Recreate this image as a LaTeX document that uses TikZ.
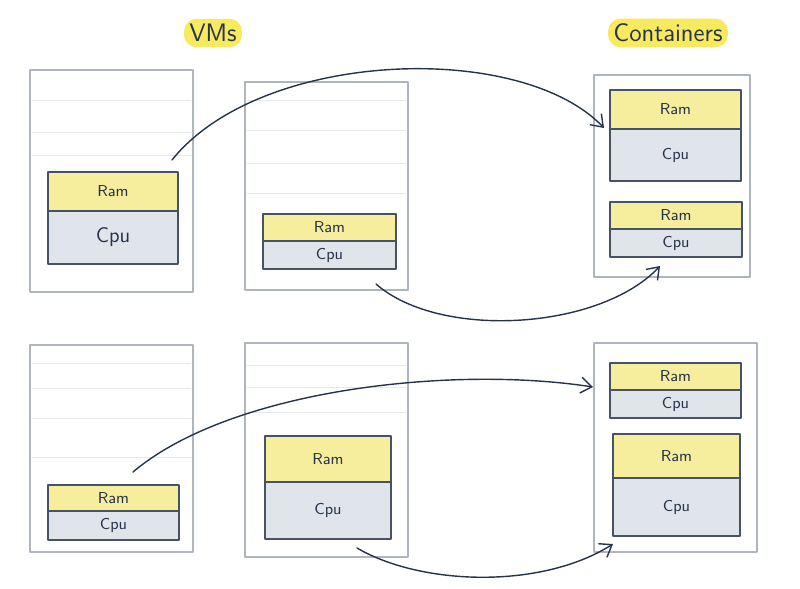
\documentclass[tikz,border=0pt]{standalone}
\usetikzlibrary{positioning,arrows.meta}

\definecolor{ramyellow}{HTML}{F6EE9C}
\definecolor{cpugray}{HTML}{DFE5EA}
\definecolor{boxline}{HTML}{AEB5BD}
\definecolor{inkblue}{HTML}{26344A}
\definecolor{paperline}{HTML}{E6E9EC}
\definecolor{marker}{HTML}{F8EA5E}

\tikzset{
	frame/.style={draw=boxline, line width=0.9pt, inner sep=0pt, outer sep=0pt},
	ram/.style={draw=inkblue!85, fill=ramyellow, line width=0.7pt, inner sep=0pt, outer sep=0pt, font=\small\sffamily, text=inkblue},
	cpu/.style={draw=inkblue!85, fill=cpugray, line width=0.7pt, inner sep=0pt, outer sep=0pt, font=\small\sffamily, text=inkblue},
	title/.style={fill=marker, rounded corners=7pt, inner sep=3pt, font=\Large\sffamily, text=inkblue},
	move/.style={->, draw=inkblue, line width=0.8pt}
}

\begin{document}
\begin{tikzpicture}[x=0.02cm, y=-0.02cm, line join=round, line cap=round, >={Straight Barb[length=2.2mm, width=3.2mm]}]
	\useasboundingbox (0,0) rectangle (800,588);
	% titles
	\node[title] (vms) at (213,33) {VMs};
	\node[title] (ctrs) at (668,33) {Containers};
	% faint paper lines
	\foreach \y in {100,132,155} \draw[paperline] (32,\y) -- (191,\y);
	\foreach \y in {100,130,163,193} \draw[paperline] (247,\y) -- (406,\y);
	\foreach \y in {363,388,418,457} \draw[paperline] (32,\y) -- (191,\y);
	\foreach \y in {365,387,412} \draw[paperline] (247,\y) -- (406,\y);
	% machines
	\node[frame, minimum width=3.26cm, minimum height=4.44cm] (vma) at (111.5,181) {};
	\node[frame, minimum width=3.26cm, minimum height=4.16cm] (vmb) at (326.5,186) {};
	\node[frame, minimum width=3.12cm, minimum height=4.04cm] (ctra) at (672,176) {};
	\node[frame, minimum width=3.26cm, minimum height=4.14cm] (vmc) at (111.5,448.5) {};
	\node[frame, minimum width=3.26cm, minimum height=4.28cm] (vmd) at (326.5,450) {};
	\node[frame, minimum width=3.26cm, minimum height=4.18cm] (ctrb) at (675.5,447.5) {};
	% resources, top row
	\node[ram, minimum width=2.6cm, minimum height=0.78cm] (vmaram) at (113,191.5) {Ram};
	\node[cpu, minimum width=2.6cm, minimum height=1.06cm, below=0pt of vmaram, font=\large\sffamily] (vmacpu) {Cpu};
	\node[ram, minimum width=2.66cm, minimum height=0.54cm] (vmbram) at (329.5,227.5) {Ram};
	\node[cpu, minimum width=2.66cm, minimum height=0.56cm, below=0pt of vmbram] (vmbcpu) {Cpu};
	\node[ram, minimum width=2.62cm, minimum height=0.78cm] (ctraram) at (675.5,109.5) {Ram};
	\node[cpu, minimum width=2.62cm, minimum height=1.04cm, below=0pt of ctraram] (ctracpu) {Cpu};
	\node[ram, minimum width=2.64cm, minimum height=0.54cm] (ctrbram) at (676,215.5) {Ram};
	\node[cpu, minimum width=2.64cm, minimum height=0.56cm, below=0pt of ctrbram] (ctrbcpu) {Cpu};
	% resources, bottom row
	\node[ram, minimum width=2.62cm, minimum height=0.52cm] (vmcram) at (113.5,498) {Ram};
	\node[cpu, minimum width=2.62cm, minimum height=0.58cm, below=0pt of vmcram] (vmccpu) {Cpu};
	\node[ram, minimum width=2.52cm, minimum height=0.92cm] (vmdram) at (328,459) {Ram};
	\node[cpu, minimum width=2.52cm, minimum height=1.14cm, below=0pt of vmdram] (vmdcpu) {Cpu};
	\node[ram, minimum width=2.62cm, minimum height=0.54cm] (ctrcram) at (675.5,376.5) {Ram};
	\node[cpu, minimum width=2.62cm, minimum height=0.56cm, below=0pt of ctrcram] (ctrccpu) {Cpu};
	\node[ram, minimum width=2.54cm, minimum height=0.88cm] (ctrdram) at (676.5,456) {Ram};
	\node[cpu, minimum width=2.54cm, minimum height=1.16cm, below=0pt of ctrdram] (ctrdcpu) {Cpu};
	% arrow ends
	\coordinate (froma) at (172,160);
	\coordinate (toa) at (604,128);
	\coordinate (fromb) at (376,284);
	\coordinate (tob) at (660,266);
	\coordinate (fromc) at (133,472);
	\coordinate (toc) at (593,387);
	\coordinate (fromd) at (357,548);
	\coordinate (tod) at (613,544);
	\draw[move] (froma) .. controls (260,50) and (520,40) .. (toa);
	\draw[move] (fromb) .. controls (440,340) and (600,330) .. (tob);
	\draw[move] (fromc) .. controls (230,390) and (450,365) .. (toc);
	\draw[move] (fromd) .. controls (420,585) and (540,590) .. (tod);
\end{tikzpicture}
\end{document}
